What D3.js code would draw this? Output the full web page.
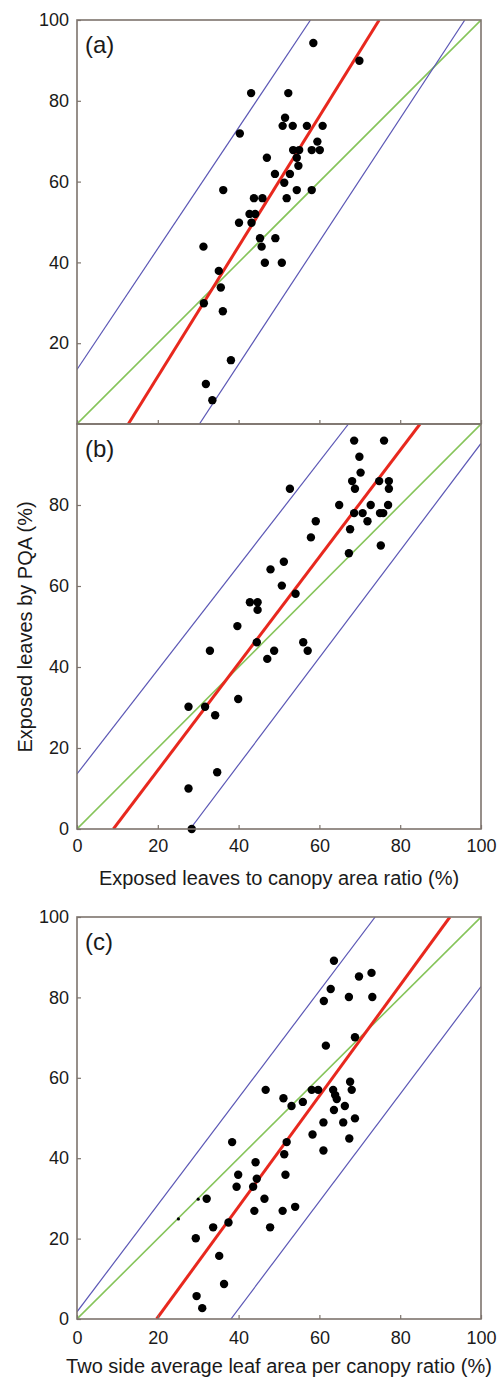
<!DOCTYPE html>
<html>
<head>
<meta charset="utf-8">
<script src="https://cdn.jsdelivr.net/npm/d3@7"></script>
<style>
  html, body { margin: 0; padding: 0; background: #fff; }
  svg { display: block; }
  text { font-family: "Liberation Sans", Arial, sans-serif; fill: #1a1a1a; }
</style>
</head>
<body>
<svg id="chart" width="497" height="1379"></svg>
<script>
// ---------- data ----------
const panelLabels = ["(a)", "(b)", "(c)"];
const xTickValues = [0, 20, 40, 60, 80, 100];
const yTicksA = [20, 40, 60, 80, 100];
const yTicksB = [0, 20, 40, 60, 80];
const yTicksC = [0, 20, 40, 60, 80, 100];
const xTitleB = "Exposed leaves to canopy area ratio (%)";
const xTitleC = "Two side average leaf area per canopy ratio (%)";
const yTitle = "Exposed leaves by PQA (%)";

// points [x, y]
const pointsA = [
  [58.5,94.3],[69.9,89.9],[43.1,81.9],[52.3,81.9],[51.5,75.8],[50.9,73.8],[53.4,73.8],[56.9,73.8],
  [60.8,73.8],[40.3,71.9],[59.5,69.9],[53.5,67.8],[55.0,67.8],[58.1,67.8],[60.1,67.8],[47.0,65.9],
  [54.4,65.9],[54.8,63.9],[49.0,61.9],[52.7,61.9],[51.3,59.7],[36.2,57.9],[54.4,57.9],[58.1,57.9],
  [43.8,55.9],[45.9,55.9],[51.9,55.9],[42.7,52.0],[44.1,52.0],[40.1,49.8],[43.2,49.8],[45.3,46.0],
  [49.1,46.0],[31.3,43.9],[45.7,43.9],[46.5,39.9],[50.7,39.9],[35.1,37.9],[35.6,33.8],[31.4,29.9],
  [36.1,27.9],[38.1,15.8],[31.9,9.9],[33.5,5.9]
];
const pointsB = [
  [68.6,95.9],[76.0,95.9],[69.9,91.9],[70.2,88.0],[68.1,85.9],[74.8,85.9],[77.2,85.9],[68.8,84.0],
  [77.2,84.0],[52.7,84.0],[64.9,80.0],[72.7,80.0],[77.0,80.0],[68.6,78.0],[70.7,78.0],[75.0,78.0],
  [75.8,78.0],[71.9,76.0],[59.1,76.0],[67.6,74.0],[57.9,72.0],[75.2,70.0],[67.3,68.1],[51.2,66.0],
  [47.9,64.1],[50.7,60.1],[54.1,58.1],[42.8,56.0],[44.7,56.0],[44.7,54.1],[39.7,50.1],[44.5,46.1],
  [56.0,46.1],[32.9,44.0],[48.8,44.0],[57.1,44.0],[47.1,42.0],[39.9,32.1],[27.6,30.2],[31.7,30.2],
  [34.2,28.1],[34.7,14.0],[27.6,10.0],[28.4,0.0]
];
const pointsC = [
  [63.6,89.1],[72.9,86.1],[69.8,85.2],[62.8,82.1],[61.1,79.1],[67.3,80.1],[73.1,80.1],[68.8,70.1],
  [61.6,68.0],[67.6,59.0],[46.7,57.0],[58.1,57.0],[59.7,57.0],[63.4,57.0],[68.0,57.0],[63.9,55.7],
  [64.3,54.7],[51.1,54.9],[55.9,54.0],[53.1,53.0],[66.3,53.0],[63.6,52.0],[68.8,49.9],[61.0,48.9],
  [65.9,48.9],[58.3,45.9],[67.4,44.9],[61.0,41.9],[38.4,44.0],[51.9,44.0],[51.3,41.0],[44.2,39.0],
  [39.9,35.9],[44.5,34.9],[51.6,35.9],[39.5,32.9],[43.6,32.9],[32.1,29.9],[46.4,29.9],[43.9,26.9],
  [50.9,26.9],[54.0,27.9],[37.5,24.0],[33.7,22.8],[47.8,22.8],[29.4,20.1],[35.2,15.7],[36.4,8.7],
  [29.6,5.7],[31.0,2.7]
];
const smallPointsC = [[25.1,24.9],[30.0,29.8]];

// lines as [x0, y0, x1, y1] in data units
const greenA = [0,0,100,100];
const redA = [12.7,0,74.8,100];
const blueUpA = [0,13.5,57.8,100];
const blueLoA = [30.3,0,96.0,100];

const greenB = [0,0,100,100];
const redB = [9.0,0,84.9,100];
const blueUpB = [0,13.6,67.2,100];
const blueLoB = [28.0,0,100,95.2];

const greenC = [0,0,100,100];
const redC = [19.7,0,92.3,100];
const blueUpC = [0,1.8,73.8,100];
const blueLoC = [38.1,0,100,82.7];

// ---------- layout ----------
const svg = d3.select("#chart");
const X0 = 77, X1 = 481;
const panels = [
  {label: panelLabels[0], top: 20, bottom: 424, pts: pointsA, small: [], yt: yTicksA,
   lines: {green: greenA, red: redA, blueUp: blueUpA, blueLo: blueLoA}, xLabels: false, title: null, tp: 10},
  {label: panelLabels[1], top: 424, bottom: 829, pts: pointsB, small: [], yt: yTicksB,
   lines: {green: greenB, red: redB, blueUp: blueUpB, blueLo: blueLoB}, xLabels: true, title: xTitleB, titleY: 885, tp: 10},
  {label: panelLabels[2], top: 917, bottom: 1319, pts: pointsC, small: smallPointsC, yt: yTicksC,
   lines: {green: greenC, red: redC, blueUp: blueUpC, blueLo: blueLoC}, xLabels: true, title: xTitleC, titleY: 1373, tp: 12}
];

const colors = {green: "#86c45a", red: "#e8281e", blueUp: "#5b57b5", blueLo: "#5b57b5"};
const widths = {green: 1.6, red: 3, blueUp: 1.2, blueLo: 1.2};
const frameColor = "#7d746d";

const x = d3.scaleLinear().domain([0, 100]).range([X0, X1]);

panels.forEach((p, i) => {
  const y = d3.scaleLinear().domain([0, 100]).range([p.bottom, p.top]);
  const g = svg.append("g");

  const clipId = "clip" + i;
  svg.append("clipPath").attr("id", clipId)
    .append("rect").attr("x", X0).attr("y", p.top).attr("width", X1 - X0).attr("height", p.bottom - p.top);

  // lines
  const lg = g.append("g").attr("clip-path", `url(#${clipId})`);
  ["green", "blueUp", "blueLo", "red"].forEach(k => {
    const L = p.lines[k];
    lg.append("line")
      .attr("x1", x(L[0])).attr("y1", y(L[1]))
      .attr("x2", x(L[2])).attr("y2", y(L[3]))
      .attr("stroke", colors[k]).attr("stroke-width", widths[k]);
  });

  // points
  g.append("g").selectAll("circle").data(p.pts).join("circle")
    .attr("cx", d => x(d[0])).attr("cy", d => y(d[1])).attr("r", 4.2).attr("fill", "#000");
  g.append("g").selectAll("circle").data(p.small).join("circle")
    .attr("cx", d => x(d[0])).attr("cy", d => y(d[1])).attr("r", 1.6).attr("fill", "#000");

  // y axis
  const ya = d3.axisLeft(y).tickValues(p.yt).tickSize(-4).tickPadding(8);
  const yg = g.append("g").attr("transform", `translate(${X0},0)`).call(ya);
  yg.select(".domain").remove();
  yg.selectAll("line").attr("stroke", frameColor).attr("stroke-width", 1.2);
  yg.selectAll("text").attr("font-size", 18).attr("font-family", "Liberation Sans, Arial, sans-serif").attr("fill", "#1a1a1a");

  // x axis
  const xa = d3.axisBottom(x).tickValues(xTickValues).tickSize(-4).tickPadding(p.tp);
  if (!p.xLabels) xa.tickFormat(() => "");
  const xg = g.append("g").attr("transform", `translate(0,${p.bottom})`).call(xa);
  xg.select(".domain").remove();
  xg.selectAll("line").attr("stroke", frameColor).attr("stroke-width", 1.2);
  xg.selectAll("text").attr("font-size", 18).attr("font-family", "Liberation Sans, Arial, sans-serif").attr("fill", "#1a1a1a");

  // frame
  g.append("rect").attr("x", X0).attr("y", p.top).attr("width", X1 - X0).attr("height", p.bottom - p.top)
    .attr("fill", "none").attr("stroke", frameColor).attr("stroke-width", 1.6);

  // panel label
  g.append("text").attr("x", X0 + 8).attr("y", p.top + 33).attr("font-size", 24).text(p.label);

  if (p.title) {
    g.append("text").attr("x", (X0 + X1) / 2).attr("y", p.titleY).attr("text-anchor", "middle")
      .attr("font-size", 20).text(p.title);
  }
});

svg.append("text")
  .attr("transform", "translate(32,627) rotate(-90)")
  .attr("text-anchor", "middle").attr("font-size", 20).text(yTitle);
</script>
</body>
</html>
